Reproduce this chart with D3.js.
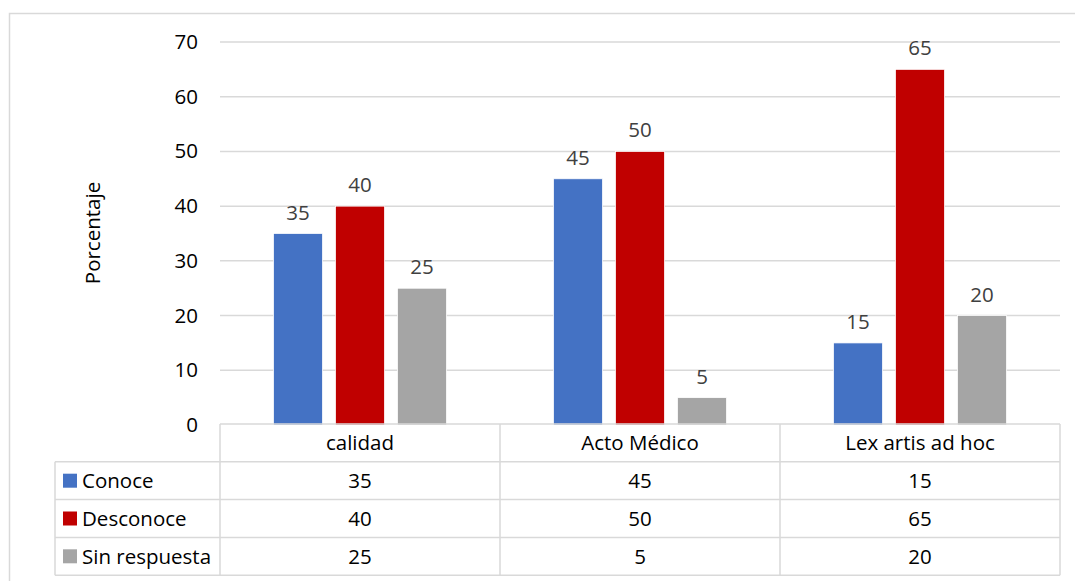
<!DOCTYPE html>
<html>
<head>
<meta charset="utf-8">
<script src="https://cdn.jsdelivr.net/npm/d3@7"></script>
<style>
  body { margin: 0; background: #fff; }
  text { font-family: "Open Sans", Lato, sans-serif; }
</style>
</head>
<body>
<div id="chart"></div>
<script>
const categories = ["calidad", "Acto Médico", "Lex artis ad hoc"];
const seriesNames = ["Conoce", "Desconoce", "Sin respuesta"];
const conoce = [35, 45, 15];
const desconoce = [40, 50, 65];
const sinRespuesta = [25, 5, 20];
const yTicks = [0, 10, 20, 30, 40, 50, 60, 70];
const colors = ["#4472C4", "#C00000", "#A5A5A5"];

const width = 1075;
const height = 581;
const plot = { left: 220, right: 1060, top: 42, bottom: 425 };
const rowH = 37.8;
const tableLeft = 55;
const fontSize = 20.5;

const seriesValues = [conoce, desconoce, sinRespuesta];

const svg = d3
  .select("#chart")
  .append("svg")
  .attr("width", width)
  .attr("height", height);

// outer chart frame
svg
  .append("rect")
  .attr("x", 9.5)
  .attr("y", 13.5)
  .attr("width", 1080)
  .attr("height", 600)
  .attr("fill", "none")
  .attr("stroke", "#d9d9d9")
  .attr("stroke-width", 1.5);

const xScale = d3
  .scaleBand()
  .domain(categories)
  .range([plot.left, plot.right]);

const xInner = d3
  .scaleBand()
  .domain(seriesNames)
  .range([0, xScale.bandwidth()])
  .paddingInner(0.21)
  .paddingOuter(0.863);

const yScale = d3
  .scaleLinear()
  .domain([0, 70])
  .range([plot.bottom, plot.top]);

// gridlines
svg
  .append("g")
  .selectAll("line")
  .data(yTicks.filter((d) => d > 0))
  .join("line")
  .attr("x1", plot.left)
  .attr("x2", plot.right)
  .attr("y1", (d) => yScale(d))
  .attr("y2", (d) => yScale(d))
  .attr("stroke", "#d9d9d9")
  .attr("stroke-width", 1.5);

// y axis labels
const yAxis = svg
  .append("g")
  .attr("transform", `translate(${plot.left - 22}, 0)`)
  .call(d3.axisLeft(yScale).tickValues(yTicks).tickSize(0).tickPadding(0));
yAxis.select(".domain").remove();
yAxis
  .selectAll("text")
  .attr("font-family", "'Open Sans', sans-serif")
  .attr("font-size", fontSize)
  .attr("fill", "#000");

svg
  .append("text")
  .attr("transform", "rotate(-90)")
  .attr("x", -233)
  .attr("y", 93)
  .attr("dy", "0.35em")
  .attr("text-anchor", "middle")
  .attr("font-size", fontSize)
  .attr("fill", "#000")
  .text("Porcentaje");

// bars
const groups = svg
  .append("g")
  .selectAll("g")
  .data(seriesNames)
  .join("g")
  .attr("fill", (d, i) => colors[i]);

groups
  .selectAll("rect")
  .data((s, si) => categories.map((c, ci) => ({ s, c, v: seriesValues[si][ci] })))
  .join("rect")
  .attr("x", (d) => xScale(d.c) + xInner(d.s))
  .attr("y", (d) => yScale(d.v))
  .attr("width", xInner.bandwidth())
  .attr("height", (d) => yScale(0) - yScale(d.v))
  .attr("stroke", "#fff")
  .attr("stroke-width", 0.75);

groups
  .selectAll("text")
  .data((s, si) => categories.map((c, ci) => ({ s, c, v: seriesValues[si][ci] })))
  .join("text")
  .attr("x", (d) => xScale(d.c) + xInner(d.s) + xInner.bandwidth() / 2)
  .attr("y", (d) => yScale(d.v) - 14)
  .attr("text-anchor", "middle")
  .attr("font-size", fontSize)
  .attr("fill", "#404040")
  .text((d) => d.v);

// data table
const table = svg.append("g").attr("stroke", "#d9d9d9").attr("stroke-width", 1.5);
const tableTop = plot.bottom - 1;
const tableBottom = tableTop + rowH * 4;

// horizontal lines
table
  .append("line")
  .attr("x1", plot.left)
  .attr("x2", plot.right)
  .attr("y1", tableTop)
  .attr("y2", tableTop);
table
  .selectAll(".hrow")
  .data(d3.range(1, 5))
  .join("line")
  .attr("class", "hrow")
  .attr("x1", tableLeft)
  .attr("x2", plot.right)
  .attr("y1", (i) => tableTop + i * rowH)
  .attr("y2", (i) => tableTop + i * rowH);

// vertical lines
table
  .append("line")
  .attr("x1", tableLeft)
  .attr("x2", tableLeft)
  .attr("y1", tableTop + rowH)
  .attr("y2", tableBottom);
table
  .selectAll(".vcol")
  .data(categories)
  .join("line")
  .attr("class", "vcol")
  .attr("x1", (c) => xScale(c))
  .attr("x2", (c) => xScale(c))
  .attr("y1", tableTop)
  .attr("y2", tableBottom);
table
  .append("line")
  .attr("x1", plot.right)
  .attr("x2", plot.right)
  .attr("y1", tableTop)
  .attr("y2", tableBottom);

// header
svg
  .append("g")
  .selectAll("text")
  .data(categories)
  .join("text")
  .attr("x", (c) => xScale(c) + xScale.bandwidth() / 2)
  .attr("y", tableTop + rowH / 2)
  .attr("dy", "0.36em")
  .attr("text-anchor", "middle")
  .attr("font-size", fontSize)
  .attr("fill", "#000")
  .text((c) => c);

// series rows
const rows = svg
  .append("g")
  .selectAll("g")
  .data(seriesNames)
  .join("g")
  .attr("transform", (s, i) => `translate(0, ${tableTop + (i + 1.5) * rowH})`);

rows
  .append("rect")
  .attr("x", 63)
  .attr("y", -7)
  .attr("width", 14)
  .attr("height", 14)
  .attr("fill", (s, i) => colors[i]);

rows
  .append("text")
  .attr("x", 82)
  .attr("dy", "0.36em")
  .attr("font-size", fontSize)
  .attr("fill", "#000")
  .text((s) => s);

rows
  .selectAll(".val")
  .data((s, si) => categories.map((c, ci) => ({ c, v: seriesValues[si][ci] })))
  .join("text")
  .attr("class", "val")
  .attr("x", (d) => xScale(d.c) + xScale.bandwidth() / 2)
  .attr("dy", "0.36em")
  .attr("text-anchor", "middle")
  .attr("font-size", fontSize)
  .attr("fill", "#000")
  .text((d) => d.v);
</script>
</body>
</html>
